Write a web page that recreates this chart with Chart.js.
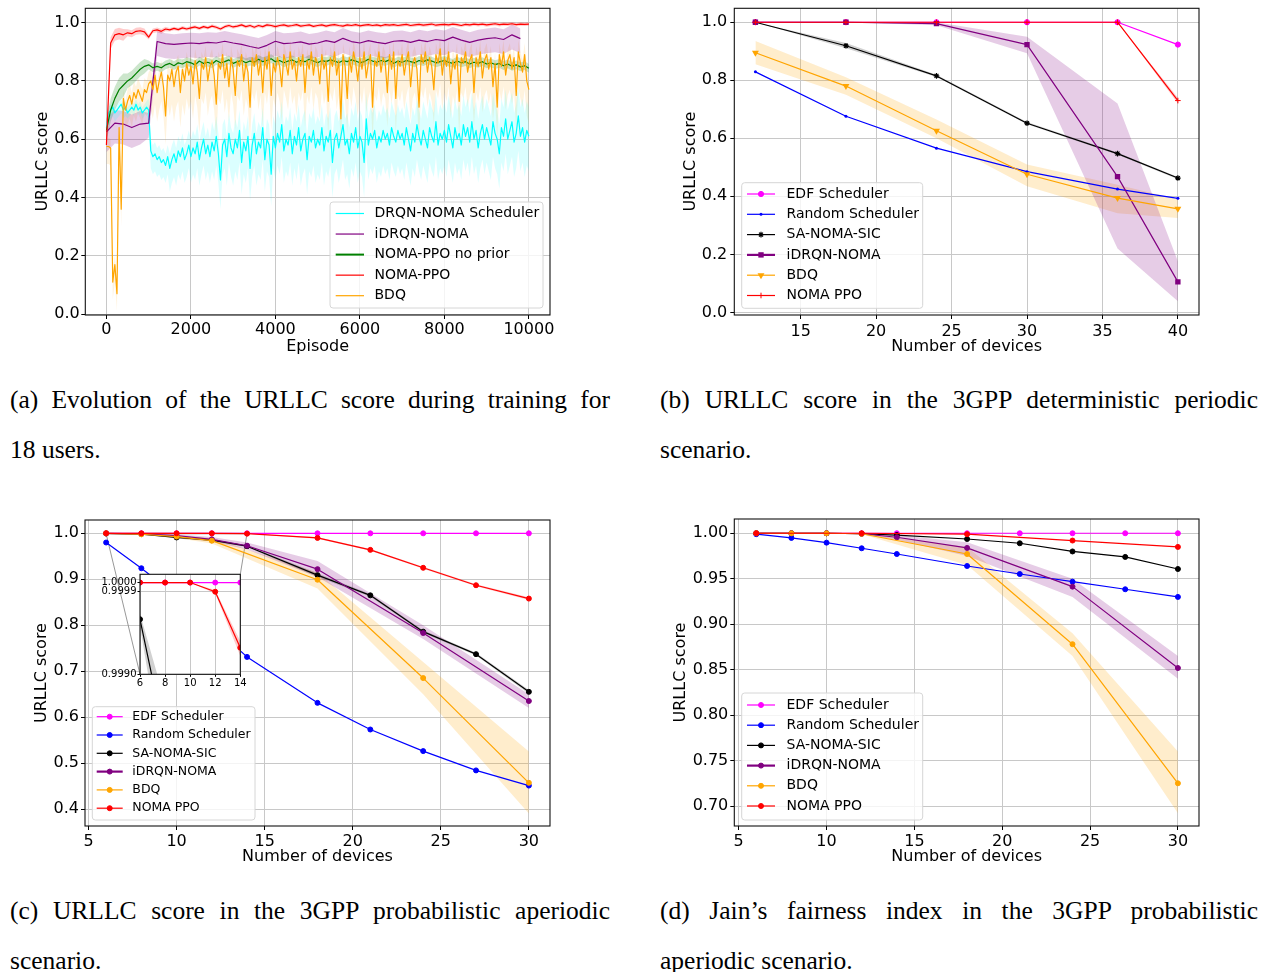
<!DOCTYPE html>
<html>
<head>
<meta charset="utf-8">
<script src="https://cdn.jsdelivr.net/npm/chart.js@4.4.1/dist/chart.umd.min.js"></script>
<style>
  html, body { margin: 0; padding: 0; background: #fff; }
  body { width: 1270px; height: 972px; position: relative; overflow: hidden; }
  canvas { position: absolute; }
  .cap { position: absolute; font-family: 'Liberation Serif', 'Times New Roman', serif; font-size: 25.5px; line-height: 50px; color: #000; }
  .cap .j { text-align: justify; text-align-last: justify; }
</style>
</head>
<body>
<canvas id="chartA"></canvas>
<canvas id="chartB"></canvas>
<canvas id="chartC"></canvas>
<canvas id="chartD"></canvas>
<canvas id="chartInset"></canvas>

<div class="cap" style="left:10px;top:375px;width:600px"><div class="j">(a) Evolution of the URLLC score during training for</div><div>18 users.</div></div>
<div class="cap" style="left:660px;top:375px;width:598px"><div class="j">(b) URLLC score in the 3GPP deterministic periodic</div><div>scenario.</div></div>
<div class="cap" style="left:10px;top:886px;width:600px"><div class="j">(c) URLLC score in the 3GPP probabilistic aperiodic</div><div>scenario.</div></div>
<div class="cap" style="left:660px;top:886px;width:598px"><div class="j">(d) Jain’s fairness index in the 3GPP probabilistic</div><div>aperiodic scenario.</div></div>

<script>
// ---------- (a) training, 18 users ----------
const EP_STEP = 50;          // DRQN / BDQ logged every 50 episodes
const EP_STEP_PPO = 100;     // PPO runs logged every 100 episodes
const EP_STEP_IDRQN = 200;
const SPREAD_BLOCK = 500;    // spread values are given per 500 episodes
const episodeTicks = [0, 2000, 4000, 6000, 8000, 10000];
const scoreTicksA = [0, 0.2, 0.4, 0.6, 0.8, 1.0];

const drqnScore = [
  0.64, 0.69, 0.70, 0.71, 0.69, 0.70, 0.71, 0.72, 0.70, 0.71,
  0.69, 0.70, 0.71, 0.70, 0.72, 0.70, 0.71, 0.69, 0.70, 0.71,
  0.70, 0.56, 0.54, 0.55, 0.53, 0.54, 0.52, 0.53, 0.51, 0.54,
  0.50, 0.53, 0.55, 0.52, 0.56, 0.54, 0.57, 0.53, 0.55, 0.58,
  0.54, 0.57, 0.55, 0.59, 0.53, 0.57, 0.60, 0.55, 0.58, 0.54,
  0.59, 0.56, 0.61, 0.55, 0.46, 0.58, 0.60, 0.54, 0.62, 0.57,
  0.55, 0.60, 0.57, 0.63, 0.52, 0.59, 0.56, 0.61, 0.50, 0.58,
  0.62, 0.55, 0.59, 0.57, 0.64, 0.53, 0.60, 0.58, 0.48, 0.61,
  0.57, 0.62, 0.59, 0.65, 0.56, 0.60, 0.58, 0.63, 0.55, 0.61,
  0.58, 0.64, 0.56, 0.60, 0.62, 0.53, 0.61, 0.59, 0.63, 0.57,
  0.60, 0.58, 0.64, 0.56, 0.61, 0.59, 0.63, 0.52, 0.60, 0.62,
  0.57, 0.61, 0.65, 0.58, 0.60, 0.55, 0.62, 0.59, 0.64, 0.57,
  0.61, 0.59, 0.52, 0.67, 0.58, 0.62, 0.60, 0.63, 0.57, 0.61,
  0.59, 0.63, 0.60, 0.62, 0.58, 0.64, 0.61, 0.59, 0.63, 0.60,
  0.62, 0.58, 0.64, 0.60, 0.56, 0.62, 0.59, 0.65, 0.61, 0.58,
  0.63, 0.60, 0.57, 0.64, 0.61, 0.59, 0.66, 0.58, 0.62, 0.60,
  0.63, 0.59, 0.65, 0.61, 0.57, 0.64, 0.60, 0.62, 0.58, 0.65,
  0.61, 0.64, 0.59, 0.66, 0.60, 0.63, 0.57, 0.62, 0.65, 0.60,
  0.64, 0.61, 0.58, 0.66, 0.62, 0.60, 0.55, 0.64, 0.61, 0.67,
  0.60, 0.63, 0.66, 0.59, 0.62, 0.68, 0.61, 0.64, 0.59, 0.63,
  0.61
];
const drqnSpreadUp   = [0.02, 0.02, 0.04, 0.05, 0.06, 0.07, 0.07, 0.07, 0.08, 0.08, 0.08, 0.09, 0.09, 0.09, 0.09, 0.10, 0.10, 0.10, 0.10, 0.10, 0.10];
const drqnSpreadDown = [0.03, 0.02, 0.06, 0.08, 0.09, 0.10, 0.11, 0.11, 0.11, 0.12, 0.12, 0.12, 0.12, 0.12, 0.12, 0.12, 0.12, 0.12, 0.12, 0.12, 0.12];

const bdqTrainScore = [
  0.575, 0.575, 0.57, 0.11, 0.17, 0.07, 0.64, 0.36, 0.74, 0.70,
  0.73, 0.75, 0.72, 0.76, 0.74, 0.77, 0.75, 0.73, 0.77, 0.76,
  0.79, 0.80, 0.77, 0.82, 0.76, 0.80, 0.83, 0.78, 0.68, 0.82,
  0.80, 0.84, 0.78, 0.83, 0.85, 0.76, 0.84, 0.80, 0.86, 0.82,
  0.85, 0.79, 0.87, 0.83, 0.74, 0.86, 0.84, 0.88, 0.80, 0.85,
  0.87, 0.82, 0.72, 0.86, 0.84, 0.89, 0.81, 0.86, 0.78, 0.88,
  0.84, 0.75, 0.87, 0.85, 0.89, 0.80, 0.86, 0.83, 0.71, 0.88,
  0.85, 0.89, 0.82, 0.87, 0.76, 0.88, 0.84, 0.90, 0.75, 0.86,
  0.83, 0.88, 0.85, 0.78, 0.89, 0.86, 0.82, 0.90, 0.84, 0.87,
  0.80, 0.88, 0.85, 0.89, 0.76, 0.87, 0.84, 0.90, 0.82, 0.88,
  0.86, 0.79, 0.89, 0.84, 0.87, 0.73, 0.88, 0.85, 0.90, 0.82,
  0.87, 0.67, 0.89, 0.85, 0.74, 0.88, 0.83, 0.90, 0.86, 0.80,
  0.88, 0.84, 0.90, 0.81, 0.86, 0.89, 0.71, 0.87, 0.85, 0.90,
  0.83, 0.88, 0.86, 0.76, 0.89, 0.84, 0.90, 0.74, 0.87, 0.85,
  0.89, 0.82, 0.87, 0.90, 0.78, 0.86, 0.88, 0.84, 0.71, 0.89,
  0.86, 0.90, 0.83, 0.88, 0.85, 0.77, 0.89, 0.86, 0.91, 0.82,
  0.88, 0.85, 0.90, 0.79, 0.87, 0.84, 0.89, 0.73, 0.88, 0.86,
  0.90, 0.83, 0.87, 0.89, 0.76, 0.88, 0.85, 0.90, 0.81, 0.87,
  0.89, 0.84, 0.88, 0.78, 0.86, 0.71, 0.89, 0.85, 0.90, 0.82,
  0.87, 0.89, 0.84, 0.88, 0.75, 0.90, 0.86, 0.83, 0.89, 0.80,
  0.77
];
const bdqSpreadUp   = [0.03, 0.04, 0.04, 0.04, 0.04, 0.04, 0.04, 0.04, 0.04, 0.04, 0.04, 0.04, 0.04, 0.04, 0.04, 0.04, 0.04, 0.04, 0.04, 0.04, 0.04];
const bdqSpreadDown = [0.06, 0.08, 0.10, 0.12, 0.12, 0.12, 0.12, 0.12, 0.12, 0.12, 0.12, 0.12, 0.12, 0.12, 0.12, 0.12, 0.12, 0.12, 0.12, 0.12, 0.12];

const ppoNoPriorScore = [
  0.63, 0.70, 0.74, 0.77, 0.785, 0.80, 0.81, 0.825, 0.84, 0.85,
  0.855, 0.845, 0.85, 0.845, 0.855, 0.86, 0.852, 0.862, 0.858, 0.866,
  0.862, 0.855, 0.868, 0.86, 0.864, 0.858, 0.87, 0.862, 0.866, 0.872,
  0.86, 0.866, 0.87, 0.862, 0.868, 0.864, 0.874, 0.866, 0.87, 0.876,
  0.866, 0.87, 0.862, 0.868, 0.872, 0.864, 0.87, 0.866, 0.874, 0.868,
  0.862, 0.87, 0.866, 0.872, 0.868, 0.862, 0.87, 0.866, 0.872, 0.868,
  0.862, 0.866, 0.874, 0.868, 0.864, 0.87, 0.866, 0.872, 0.86, 0.868,
  0.864, 0.87, 0.866, 0.862, 0.87, 0.866, 0.872, 0.868, 0.862, 0.866,
  0.87, 0.864, 0.86, 0.868, 0.862, 0.866, 0.858, 0.864, 0.86, 0.866,
  0.858, 0.862, 0.856, 0.86, 0.852, 0.858, 0.85, 0.855, 0.848, 0.852,
  0.843
];
const ppoNoPriorSpread = [0.04, 0.025, 0.015, 0.015, 0.015, 0.015, 0.015, 0.015, 0.015, 0.015, 0.015, 0.015, 0.015, 0.015, 0.015, 0.015, 0.015, 0.015, 0.015, 0.015, 0.015];

const ppoTrainScore = [
  0.58, 0.93, 0.958, 0.962, 0.958, 0.965, 0.962, 0.97, 0.972, 0.968,
  0.95, 0.972, 0.975, 0.97, 0.978, 0.975, 0.98, 0.976, 0.982, 0.978,
  0.982, 0.985, 0.98, 0.986, 0.982, 0.988, 0.984, 0.978, 0.986, 0.99,
  0.985, 0.988, 0.992, 0.986, 0.99, 0.984, 0.99, 0.986, 0.992, 0.99,
  0.986, 0.99, 0.992, 0.988, 0.99, 0.993, 0.988, 0.99, 0.992, 0.987,
  0.99, 0.992, 0.988, 0.991, 0.993, 0.99, 0.988, 0.992, 0.99, 0.993,
  0.989, 0.991, 0.993, 0.99, 0.992, 0.989, 0.993, 0.991, 0.993, 0.99,
  0.992, 0.994, 0.99, 0.992, 0.994, 0.991, 0.993, 0.995, 0.991, 0.993,
  0.994, 0.992, 0.995, 0.993, 0.99, 0.994, 0.992, 0.995, 0.993, 0.995,
  0.992, 0.994, 0.996, 0.993, 0.995, 0.994, 0.996, 0.993, 0.995, 0.994,
  0.995
];
const ppoTrainSpread = [0.02, 0.012, 0.008, 0.006, 0.006, 0.006, 0.006, 0.006, 0.006, 0.006, 0.006, 0.006, 0.006, 0.006, 0.006, 0.006, 0.006, 0.006, 0.006, 0.006, 0.006];

const idrqnTrainScore = [
  0.625, 0.655, 0.652, 0.64, 0.652, 0.655, 0.935, 0.928, 0.925, 0.928,
  0.93, 0.928, 0.932, 0.93, 0.936, 0.93, 0.925, 0.918, 0.912, 0.922,
  0.936, 0.928, 0.93, 0.934, 0.926, 0.93, 0.938, 0.932, 0.946, 0.935,
  0.93, 0.938, 0.932, 0.928, 0.936, 0.938, 0.932, 0.94, 0.935, 0.942,
  0.938, 0.95, 0.94, 0.932, 0.94, 0.945, 0.948, 0.942, 0.958, 0.945
];
const idrqnSpreadUp   = [0.045, 0.045, 0.035, 0.035, 0.035, 0.035, 0.035, 0.035, 0.035, 0.035, 0.035, 0.035, 0.035, 0.035, 0.035, 0.035, 0.035, 0.035, 0.035, 0.035, 0.035];
const idrqnSpreadDown = [0.07, 0.07, 0.05, 0.05, 0.05, 0.05, 0.05, 0.05, 0.05, 0.05, 0.05, 0.05, 0.05, 0.05, 0.05, 0.05, 0.05, 0.05, 0.05, 0.05, 0.05];

// ---------- (b) 3GPP deterministic periodic ----------
const devicesB = [12, 18, 24, 30, 36, 40];
const devTicksB = [15, 20, 25, 30, 35, 40];
const scoreTicksB = [0, 0.2, 0.4, 0.6, 0.8, 1.0];
const edfB = [1.0, 1.0, 1.0, 1.0, 1.0, 0.923];
const randomB = [0.829, 0.676, 0.566, 0.485, 0.425, 0.393];
const saB = [1.0, 0.919, 0.815, 0.652, 0.547, 0.463];
const saB_lo = [1.0, 0.910, 0.811, 0.648, 0.543, 0.459];
const saB_hi = [1.0, 0.928, 0.819, 0.656, 0.551, 0.467];
const idrqnB = [1.0, 1.0, 0.995, 0.923, 0.468, 0.105];
const idrqnB_lo = [1.0, 1.0, 0.990, 0.893, 0.220, 0.038];
const idrqnB_hi = [1.0, 1.0, 1.0, 0.950, 0.720, 0.176];
const bdqB = [0.895, 0.780, 0.626, 0.476, 0.394, 0.357];
const bdqB_lo = [0.855, 0.750, 0.600, 0.435, 0.342, 0.325];
const bdqB_hi = [0.935, 0.810, 0.665, 0.510, 0.440, 0.390];
const ppoB = [1.0, 1.0, 1.0, 1.0, 1.0, 0.730];
const ppoB_lo = [1.0, 1.0, 1.0, 1.0, 1.0, 0.720];
const ppoB_hi = [1.0, 1.0, 1.0, 1.0, 1.0, 0.740];

// ---------- (c), (d) 3GPP probabilistic aperiodic ----------
const devicesAll = [6, 8, 10, 12, 14, 18, 21, 24, 27, 30];
const devicesRL = [6, 8, 10, 12, 14, 18, 24, 30];
const devicesBdq = [6, 8, 10, 12, 18, 24, 30];
const devicesPpoD = [6, 12, 18, 24, 30];
const devTicksCD = [5, 10, 15, 20, 25, 30];
const scoreTicksC = [0.4, 0.5, 0.6, 0.7, 0.8, 0.9, 1.0];
const fairTicksD = [0.70, 0.75, 0.80, 0.85, 0.90, 0.95, 1.00];

const edfC = [1, 1, 1, 1, 1, 1, 1, 1, 1, 1];
const randomC = [0.980, 0.924, 0.864, 0.800, 0.731, 0.631, 0.573, 0.526, 0.484, 0.451];
const saC = [0.9996, 0.9983, 0.991, 0.985, 0.972, 0.909, 0.865, 0.786, 0.737, 0.655];
const saC_lo = [0.99952, 0.9979, 0.989, 0.983, 0.970, 0.905, 0.862, 0.783, 0.734, 0.651];
const saC_hi = [0.99966, 0.9987, 0.993, 0.987, 0.974, 0.913, 0.868, 0.789, 0.740, 0.659];
const idrqnC = [1.0, 0.999, 0.995, 0.987, 0.973, 0.922, 0.783, 0.635];
const idrqnC_lo = [1.0, 0.998, 0.992, 0.982, 0.965, 0.905, 0.770, 0.620];
const idrqnC_hi = [1.0, 1.0, 0.998, 0.992, 0.980, 0.940, 0.800, 0.650];
const bdqC = [1.0, 0.998, 0.993, 0.984, 0.899, 0.685, 0.457];
const bdqC_lo = [1.0, 0.997, 0.990, 0.978, 0.880, 0.650, 0.390];
const bdqC_hi = [1.0, 0.999, 0.996, 0.990, 0.915, 0.720, 0.525];
const ppoC = [1.0, 1.0, 1.0, 0.9999, 0.99929, 0.990, 0.964, 0.925, 0.887, 0.858];
const ppoC_lo = [1.0, 1.0, 1.0, 0.99988, 0.99920, 0.988, 0.962, 0.923, 0.885, 0.855];
const ppoC_hi = [1.0, 1.0, 1.0, 0.99992, 0.99936, 0.992, 0.966, 0.927, 0.889, 0.861];
// zoomed window drawn in the inset
const insetX = [6, 14];
const insetY = [0.999, 1.00009];
const insetTicksX = [6, 8, 10, 12, 14];
const insetTicksY = [0.999, 0.9999, 1.0];

const edfD = [1, 1, 1, 1, 1, 1, 1, 1, 1, 1];
const randomD = [0.999, 0.9949, 0.9897, 0.9835, 0.9772, 0.964, 0.9552, 0.9468, 0.9384, 0.930];
const saD = [1.0, 1.0, 1.0, 0.9995, 0.998, 0.9937, 0.989, 0.980, 0.974, 0.9607];
const idrqnD = [1.0, 1.0, 1.0, 0.9995, 0.9956, 0.9839, 0.9413, 0.8518];
const idrqnD_lo = [1.0, 1.0, 1.0, 0.999, 0.993, 0.975, 0.930, 0.840];
const idrqnD_hi = [1.0, 1.0, 1.0, 1.0, 0.998, 0.990, 0.950, 0.865];
const bdqD = [1.0, 1.0, 1.0, 0.9995, 0.9772, 0.878, 0.725];
const bdqD_lo = [1.0, 1.0, 1.0, 0.999, 0.965, 0.865, 0.692];
const bdqD_hi = [1.0, 1.0, 1.0, 1.0, 0.985, 0.890, 0.760];
const ppoD = [1.0, 1.0, 0.999, 0.992, 0.985];

// ---------- layout (page pixels) ----------
const placeA = { x: 0, y: 0, w: 640, h: 365 },   frameA = { l: 85.3, t: 8.3, r: 550, b: 315 };
const placeB = { x: 640, y: 0, w: 630, h: 365 }, frameB = { l: 734.3, t: 8.3, r: 1199, b: 315 };
const placeC = { x: 0, y: 505, w: 640, h: 370 }, frameC = { l: 85, t: 520, r: 550, b: 826 };
const placeD = { x: 640, y: 505, w: 630, h: 370 }, frameD = { l: 734.3, t: 519, r: 1199, b: 826 };
const placeI = { x: 95, y: 565, w: 155, h: 125 }, frameI = { l: 140, t: 574.3, r: 240.3, b: 674.3 };

Chart.defaults.font.family = "'DejaVu Sans', sans-serif";
Chart.defaults.color = '#000';

const COL = { edf: '#ff00ff', rnd: '#0000ff', sa: '#000000', idrqn: '#800080', bdq: '#ffa500', ppo: '#ff0000', drqn: '#00ffff', green: '#008000' };

function pts(xs, ys) { return xs.map((x, i) => ({ x: x, y: ys[i] })); }
function stepPts(ys, step) { return ys.map((v, i) => ({ x: i * step, y: v })); }
function spreadPts(ys, step, spread, sign) {
  return ys.map((v, i) => ({ x: i * step, y: v + sign * spread[Math.floor(i * step / SPREAD_BLOCK)] }));
}
function line(label, data, color, order, extra) {
  return Object.assign({ label: label, data: data, borderColor: color, backgroundColor: color, borderWidth: 1.2,
    pointRadius: 0, pointBorderWidth: 1, fill: false, order: order }, extra || {});
}
function band(hi, lo, rgba) {
  return [
    { data: hi, borderColor: 'rgba(0,0,0,0)', backgroundColor: rgba, borderWidth: 1, pointRadius: 0, fill: '+1', order: 50 },
    { data: lo, borderColor: 'rgba(0,0,0,0)', backgroundColor: rgba, borderWidth: 1, pointRadius: 0, fill: false, order: 50 }
  ];
}
const dot = { pointStyle: 'circle', pointRadius: 2.5, pointBorderWidth: 1 };

function roundRect(ctx, x, y, w, h, r) {
  ctx.beginPath();
  ctx.moveTo(x + r, y); ctx.lineTo(x + w - r, y); ctx.quadraticCurveTo(x + w, y, x + w, y + r);
  ctx.lineTo(x + w, y + h - r); ctx.quadraticCurveTo(x + w, y + h, x + w - r, y + h);
  ctx.lineTo(x + r, y + h); ctx.quadraticCurveTo(x, y + h, x, y + h - r);
  ctx.lineTo(x, y + r); ctx.quadraticCurveTo(x, y, x + r, y); ctx.closePath();
}

// axes frame (all four spines) and optional white plot background
const framePlugin = {
  id: 'frameBox',
  beforeDraw(chart, args, o) {
    if (o && o.white) {
      const a = chart.chartArea, ctx = chart.ctx;
      ctx.save(); ctx.fillStyle = '#fff';
      ctx.fillRect(a.left, a.top, a.right - a.left, a.bottom - a.top);
      ctx.restore();
    }
  },
  afterDatasetsDraw(chart) {
    const a = chart.chartArea, ctx = chart.ctx;
    ctx.save(); ctx.strokeStyle = '#111'; ctx.lineWidth = 1.1;
    ctx.strokeRect(a.left, a.top, a.right - a.left, a.bottom - a.top);
    ctx.restore();
  }
};

// matplotlib-style legend box inside the axes
const legendPlugin = {
  id: 'legendBox',
  afterDraw(chart, args, o) {
    if (!o || !o.box) return;
    const ctx = chart.ctx, ox = o.origin[0], oy = o.origin[1];
    const b = o.box;
    ctx.save();
    roundRect(ctx, b[0] - ox, b[1] - oy, b[2] - b[0], b[3] - b[1], 3);
    ctx.fillStyle = 'rgba(255,255,255,0.8)'; ctx.fill();
    ctx.strokeStyle = '#d6d6d6'; ctx.lineWidth = 1; ctx.stroke();
    ctx.font = o.fontSize + "px 'DejaVu Sans'";
    ctx.textBaseline = 'middle'; ctx.textAlign = 'left';
    chart.data.datasets.filter(d => d.label).forEach((d, i) => {
      const y = o.rowY0 + i * o.rowStep - oy;
      ctx.strokeStyle = d.borderColor; ctx.lineWidth = d.legendWidth || d.borderWidth;
      ctx.beginPath(); ctx.moveTo(o.lineX[0] - ox, y); ctx.lineTo(o.lineX[1] - ox, y); ctx.stroke();
      if (d.pointRadius > 0) {
        const cx = (o.lineX[0] + o.lineX[1]) / 2 - ox;
        ctx.fillStyle = d.borderColor; ctx.strokeStyle = d.borderColor; ctx.lineWidth = d.pointBorderWidth || 1;
        if (Chart.helpers && Chart.helpers.drawPoint) {
          Chart.helpers.drawPoint(ctx, { pointStyle: d.pointStyle, radius: d.pointRadius, rotation: d.pointRotation || 0, borderWidth: d.pointBorderWidth || 0 }, cx, y);
        } else {
          ctx.beginPath(); ctx.arc(cx, y, d.pointRadius, 0, Math.PI * 2); ctx.fill();
        }
      }
      ctx.fillStyle = '#000'; ctx.fillText(d.label, o.textX - ox, y);
    });
    ctx.restore();
  }
};

function makeChart(id, place, frame, cfg) {
  const cv = document.getElementById(id);
  cv.width = place.w; cv.height = place.h;
  cv.style.left = place.x + 'px'; cv.style.top = place.y + 'px';
  const yW = frame.l - place.x, xH = place.y + place.h - frame.b;
  const fs = cfg.fontSize || 16;
  const scale = (a, isX) => ({
    type: 'linear', min: a.min, max: a.max,
    afterBuildTicks: s => { s.ticks = a.ticks.map(v => ({ value: v })); },
    afterFit: s => {
      if (isX) s.height = xH; else s.width = yW;
      s.paddingLeft = 0; s.paddingRight = 0; s.paddingTop = 0; s.paddingBottom = 0;
    },
    ticks: { autoSkip: false, maxRotation: 0, minRotation: 0, padding: cfg.tickPad !== undefined ? cfg.tickPad : 1.5,
      color: '#000', font: { size: fs }, callback: v => a.fmt(v) },
    grid: { color: '#c8c8c8', lineWidth: 1, tickColor: '#000', tickLength: cfg.tickLen || 4 },
    border: { display: false },
    title: a.title ? { display: true, text: a.title, color: '#000', font: { size: fs },
      padding: isX ? { top: 0, bottom: a.titlePad } : { top: a.titlePad, bottom: 0 } } : { display: false }
  });
  const pluginOpts = { legend: { display: false }, tooltip: { enabled: false }, frameBox: { white: !!cfg.white } };
  if (cfg.legend) pluginOpts.legendBox = Object.assign({ origin: [place.x, place.y] }, cfg.legend);
  return new Chart(cv, {
    type: 'line',
    data: { datasets: cfg.datasets },
    options: {
      responsive: false, animation: false, devicePixelRatio: 1, events: [],
      layout: { padding: { left: 0, bottom: 0, top: frame.t - place.y, right: place.x + place.w - frame.r } },
      scales: { x: scale(cfg.x, true), y: scale(cfg.y, false) },
      plugins: pluginOpts,
      elements: { line: { tension: 0, borderJoinStyle: 'round' } }
    },
    plugins: [framePlugin, legendPlugin].concat(cfg.plugins || [])
  });
}

const f1 = v => v.toFixed(1), f2 = v => v.toFixed(2), f4 = v => v.toFixed(4), fi = v => String(v);

// ---------- (a) ----------
makeChart('chartA', placeA, frameA, {
  x: { min: -500, max: 10500, ticks: episodeTicks, fmt: fi, title: 'Episode', titlePad: 8.7 },
  y: { min: -0.003, max: 1.049, ticks: scoreTicksA, fmt: f1, title: 'URLLC score', titlePad: 33 },
  legend: { box: [330, 202, 543, 308], rowY0: 213.5, rowStep: 20.55, lineX: [335.7, 364], textX: 374.5, fontSize: 14 },
  datasets: [
    line('DRQN-NOMA Scheduler', stepPts(drqnScore, EP_STEP), COL.drqn, 14),
    line('iDRQN-NOMA', stepPts(idrqnTrainScore, EP_STEP_IDRQN), COL.idrqn, 13),
    line('NOMA-PPO no prior', stepPts(ppoNoPriorScore, EP_STEP_PPO), COL.green, 12, { legendWidth: 2 }),
    line('NOMA-PPO', stepPts(ppoTrainScore, EP_STEP_PPO), COL.ppo, 11),
    line('BDQ', stepPts(bdqTrainScore, EP_STEP), COL.bdq, 10),
    ...band(spreadPts(drqnScore, EP_STEP, drqnSpreadUp, 1), spreadPts(drqnScore, EP_STEP, drqnSpreadDown, -1), 'rgba(0,255,255,0.14)'),
    ...band(spreadPts(idrqnTrainScore, EP_STEP_IDRQN, idrqnSpreadUp, 1), spreadPts(idrqnTrainScore, EP_STEP_IDRQN, idrqnSpreadDown, -1), 'rgba(128,0,128,0.2)'),
    ...band(spreadPts(ppoNoPriorScore, EP_STEP_PPO, ppoNoPriorSpread, 1), spreadPts(ppoNoPriorScore, EP_STEP_PPO, ppoNoPriorSpread, -1), 'rgba(0,128,0,0.2)'),
    ...band(spreadPts(ppoTrainScore, EP_STEP_PPO, ppoTrainSpread, 1), spreadPts(ppoTrainScore, EP_STEP_PPO, ppoTrainSpread, -1), 'rgba(255,0,0,0.2)'),
    ...band(spreadPts(bdqTrainScore, EP_STEP, bdqSpreadUp, 1), spreadPts(bdqTrainScore, EP_STEP, bdqSpreadDown, -1), 'rgba(255,165,0,0.13)')
  ]
});

// ---------- (b) ----------
makeChart('chartB', placeB, frameB, {
  x: { min: 10.6, max: 41.4, ticks: devTicksB, fmt: fi, title: 'Number of devices', titlePad: 8.7 },
  y: { min: -0.009, max: 1.048, ticks: scoreTicksB, fmt: f1, title: 'URLLC score', titlePad: 41 },
  tickPad: 3,
  legend: { box: [741.7, 182.7, 922.7, 308.3], rowY0: 194, rowStep: 20.3, lineX: [747, 775], textX: 786.5, fontSize: 14 },
  datasets: [
    line('EDF Scheduler', pts(devicesB, edfB), COL.edf, 15, { pointStyle: 'circle', pointRadius: 2.6, pointBorderWidth: 1 }),
    line('Random Scheduler', pts(devicesB, randomB), COL.rnd, 14, { pointStyle: 'circle', pointRadius: 1.5, pointBorderWidth: 0 }),
    line('SA-NOMA-SIC', pts(devicesB, saB), COL.sa, 13, { pointStyle: 'star', pointRadius: 2.8, pointBorderWidth: 1.2 }),
    line('iDRQN-NOMA', pts(devicesB, idrqnB), COL.idrqn, 12, { pointStyle: 'rect', pointRadius: 3.8, pointBorderWidth: 0, legendWidth: 2.2 }),
    line('BDQ', pts(devicesB, bdqB), COL.bdq, 11, { pointStyle: 'triangle', pointRotation: 180, pointRadius: 4, pointBorderWidth: 0 }),
    line('NOMA PPO', pts(devicesB, ppoB), COL.ppo, 10, { pointStyle: 'cross', pointRadius: 2.8, pointBorderWidth: 1 }),
    ...band(pts(devicesB, saB_hi), pts(devicesB, saB_lo), 'rgba(0,0,0,0.18)'),
    ...band(pts(devicesB, idrqnB_hi), pts(devicesB, idrqnB_lo), 'rgba(128,0,128,0.2)'),
    ...band(pts(devicesB, bdqB_hi), pts(devicesB, bdqB_lo), 'rgba(255,165,0,0.2)'),
    ...band(pts(devicesB, ppoB_hi), pts(devicesB, ppoB_lo), 'rgba(255,0,0,0.2)')
  ]
});

// ---------- (c) ----------
const insetLinks = {
  id: 'insetLinks',
  beforeDatasetsDraw(chart) {
    const xs = chart.scales.x, ys = chart.scales.y, ctx = chart.ctx;
    const x0 = xs.getPixelForValue(insetX[0]), x1 = xs.getPixelForValue(insetX[1]);
    const y0 = ys.getPixelForValue(insetY[0]), y1 = ys.getPixelForValue(insetY[1]);
    ctx.save(); ctx.strokeStyle = '#8c8c8c'; ctx.lineWidth = 0.9;
    ctx.strokeRect(x0, y1, x1 - x0, y0 - y1);
    ctx.beginPath();
    ctx.moveTo(x0, y0); ctx.lineTo(frameI.l - placeC.x, frameI.b - placeC.y);
    ctx.moveTo(x1, y1); ctx.lineTo(frameI.r - placeC.x, frameI.t - placeC.y);
    ctx.stroke(); ctx.restore();
  }
};

makeChart('chartC', placeC, frameC, {
  x: { min: 4.8, max: 31.2, ticks: devTicksCD, fmt: fi, title: 'Number of devices', titlePad: 8.7 },
  y: { min: 0.363, max: 1.029, ticks: scoreTicksC, fmt: f1, title: 'URLLC score', titlePad: 32.4 },
  tickPad: 2,
  legend: { box: [92.3, 706.7, 255, 820], rowY0: 716.7, rowStep: 18.3, lineX: [96.7, 122.7], textX: 132.3, fontSize: 12.5 },
  plugins: [insetLinks],
  datasets: [
    line('EDF Scheduler', pts(devicesAll, edfC), COL.edf, 15, dot),
    line('Random Scheduler', pts(devicesAll, randomC), COL.rnd, 14, dot),
    line('SA-NOMA-SIC', pts(devicesAll, saC), COL.sa, 13, dot),
    line('iDRQN-NOMA', pts(devicesRL, idrqnC), COL.idrqn, 12, Object.assign({ legendWidth: 2.2 }, dot)),
    line('BDQ', pts(devicesBdq, bdqC), COL.bdq, 11, dot),
    line('NOMA PPO', pts(devicesAll, ppoC), COL.ppo, 10, dot),
    ...band(pts(devicesAll, saC_hi), pts(devicesAll, saC_lo), 'rgba(0,0,0,0.18)'),
    ...band(pts(devicesRL, idrqnC_hi), pts(devicesRL, idrqnC_lo), 'rgba(128,0,128,0.2)'),
    ...band(pts(devicesBdq, bdqC_hi), pts(devicesBdq, bdqC_lo), 'rgba(255,165,0,0.2)'),
    ...band(pts(devicesAll, ppoC_hi), pts(devicesAll, ppoC_lo), 'rgba(255,0,0,0.2)')
  ]
});

// ---------- (d) ----------
makeChart('chartD', placeD, frameD, {
  x: { min: 4.75, max: 31.2, ticks: devTicksCD, fmt: fi, title: 'Number of devices', titlePad: 8.7 },
  y: { min: 0.678, max: 1.0157, ticks: fairTicksD, fmt: f2, title: 'URLLC score', titlePad: 31.4 },
  tickPad: 2,
  legend: { box: [741.7, 693, 922.7, 820], rowY0: 705, rowStep: 20.2, lineX: [747, 775], textX: 786.5, fontSize: 14 },
  datasets: [
    line('EDF Scheduler', pts(devicesAll, edfD), COL.edf, 15, dot),
    line('Random Scheduler', pts(devicesAll, randomD), COL.rnd, 14, dot),
    line('SA-NOMA-SIC', pts(devicesAll, saD), COL.sa, 13, dot),
    line('iDRQN-NOMA', pts(devicesRL, idrqnD), COL.idrqn, 12, Object.assign({ legendWidth: 2.2 }, dot)),
    line('BDQ', pts(devicesBdq, bdqD), COL.bdq, 11, dot),
    line('NOMA PPO', pts(devicesPpoD, ppoD), COL.ppo, 10, dot),
    ...band(pts(devicesRL, idrqnD_hi), pts(devicesRL, idrqnD_lo), 'rgba(128,0,128,0.2)'),
    ...band(pts(devicesBdq, bdqD_hi), pts(devicesBdq, bdqD_lo), 'rgba(255,165,0,0.2)')
  ]
});

// ---------- inset of (c): zoom on the top-left corner ----------
makeChart('chartInset', placeI, frameI, {
  x: { min: insetX[0], max: insetX[1], ticks: insetTicksX, fmt: fi },
  y: { min: insetY[0], max: insetY[1], ticks: insetTicksY, fmt: f4 },
  fontSize: 10, tickLen: 2.5, tickPad: 1, white: true,
  datasets: [
    line('', pts(devicesAll, edfC), COL.edf, 15, { pointStyle: 'circle', pointRadius: 2.5, pointBorderWidth: 1, label: undefined }),
    line('', pts(devicesAll, saC), COL.sa, 13, { pointStyle: 'circle', pointRadius: 2.5, pointBorderWidth: 1, label: undefined }),
    line('', pts(devicesAll, ppoC), COL.ppo, 10, { pointStyle: 'circle', pointRadius: 2.5, pointBorderWidth: 1, label: undefined }),
    ...band(pts(devicesAll, saC_hi), pts(devicesAll, saC_lo), 'rgba(0,0,0,0.18)'),
    ...band(pts(devicesAll, ppoC_hi), pts(devicesAll, ppoC_lo), 'rgba(255,0,0,0.2)')
  ]
});
</script>
</body>
</html>
